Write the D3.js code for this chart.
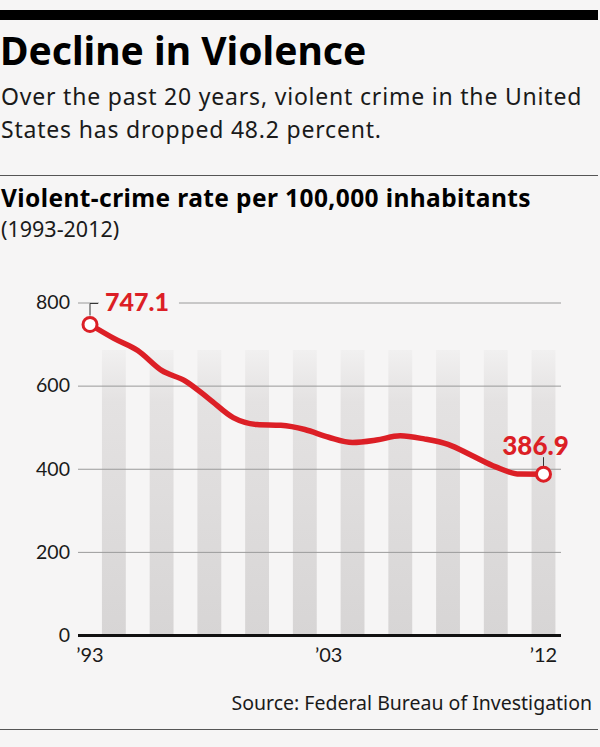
<!DOCTYPE html>
<html>
<head>
<meta charset="utf-8">
<script src="https://cdn.jsdelivr.net/npm/d3@7"></script>
<style>
  body { margin: 0; background: #f6f5f5; }
  svg { display: block; font-family: "Noto Sans", Lato, sans-serif; }
</style>
</head>
<body>
<script>
// Violent-crime rate per 100,000 inhabitants, FBI, 1993-2012
var years = [1993, 1994, 1995, 1996, 1997, 1998, 1999, 2000, 2001, 2002,
             2003, 2004, 2005, 2006, 2007, 2008, 2009, 2010, 2011, 2012];
var crimeRate = [747.1, 713.6, 684.5, 636.6, 611.0, 567.6, 523.0, 506.5, 504.5, 494.4,
                 475.8, 463.2, 469.0, 479.3, 471.8, 458.6, 431.9, 404.5, 387.1, 386.9];
var yTicks = [0, 200, 400, 600, 800];
var xTickYears = [1993, 2003, 2012];
var xTickLabels = ["\u201993", "\u201903", "\u201912"];

var width = 600;
var height = 747;
var red = "#dc1f26";

var svg = d3.select("body")
  .append("svg")
  .attr("width", width)
  .attr("height", height);

svg.append("rect")
  .attr("width", width)
  .attr("height", height)
  .attr("fill", "#f6f5f5");

// header
svg.append("rect")
  .attr("x", 0).attr("y", 10)
  .attr("width", 598).attr("height", 10)
  .attr("fill", "#000");

svg.append("text")
  .attr("x", 0).attr("y", 65)
  .attr("font-size", 39)
  .attr("font-weight", 700)
  .attr("fill", "#000")
  .text("Decline in Violence");

var sub = ["Over the past 20 years, violent crime in the United",
           "States has dropped 48.2 percent."];
svg.selectAll(".sub")
  .data(sub)
  .enter()
  .append("text")
    .attr("class", "sub")
    .attr("x", 1)
    .attr("y", function(d, i) { return 105 + i * 33; })
    .attr("font-size", 23)
    .attr("letter-spacing", 0.8)
    .attr("fill", "#1a1a1a")
    .text(function(d) { return d; });

svg.append("line")
  .attr("x1", 0).attr("x2", 598)
  .attr("y1", 175.5).attr("y2", 175.5)
  .attr("stroke", "#555");

svg.append("text")
  .attr("x", 1).attr("y", 207)
  .attr("font-size", 24.5)
  .attr("font-weight", 700)
  .attr("letter-spacing", 0.4)
  .attr("fill", "#000")
  .text("Violent-crime rate per 100,000 inhabitants");

svg.append("text")
  .attr("x", 1).attr("y", 237)
  .attr("font-size", 21.5)
  .attr("fill", "#1a1a1a")
  .text("(1993-2012)");

// scales
var xScale = d3.scaleLinear()
  .domain([1993, 2012])
  .range([90, 543.5]);

var yScale = d3.scaleLinear()
  .domain([0, 800])
  .range([635, 302.5]);

var step = xScale(1994) - xScale(1993);

// gray column bands, every other year
var grad = svg.append("defs").append("linearGradient")
  .attr("id", "band")
  .attr("x1", 0).attr("x2", 0).attr("y1", 0).attr("y2", 1);
grad.append("stop").attr("offset", "0%").attr("stop-color", "#f1f0f0");
grad.append("stop").attr("offset", "18%").attr("stop-color", "#e4e2e2");
grad.append("stop").attr("offset", "100%").attr("stop-color", "#d7d5d5");

var bandYears = years.filter(function(d) { return (d - 1993) % 2 === 1; });

svg.selectAll(".band")
  .data(bandYears)
  .enter()
  .append("rect")
    .attr("class", "band")
    .attr("x", function(d) { return xScale(d) - step / 2; })
    .attr("width", step)
    .attr("y", 350)
    .attr("height", yScale(0) - 350)
    .attr("fill", "url(#band)");

// gridlines + y labels
var yAxis = svg.append("g")
  .attr("transform", "translate(78,0)")
  .call(d3.axisLeft(yScale)
    .tickValues(yTicks)
    .tickSize(-(561 - 78))
    .tickPadding(8));

yAxis.select(".domain").remove();
yAxis.selectAll(".tick line")
  .attr("stroke", function(d) { return d === 0 ? "#111" : "#9a9a9a"; })
  .attr("stroke-width", function(d) { return d === 0 ? 3 : 1; });
yAxis.selectAll(".tick text")
  .attr("font-family", "Lato, sans-serif")
  .attr("font-size", 19.5)
  .attr("fill", "#1a1a1a");

// x labels
svg.selectAll(".xlab")
  .data(xTickYears)
  .enter()
  .append("text")
    .attr("class", "xlab")
    .attr("x", function(d) { return xScale(d); })
    .attr("y", 662)
    .attr("text-anchor", "middle")
    .attr("font-family", "Lato, sans-serif")
    .attr("font-size", 20)
    .attr("fill", "#1a1a1a")
    .text(function(d, i) { return xTickLabels[i]; });

// line
var line = d3.line()
  .x(function(d, i) { return xScale(years[i]); })
  .y(function(d) { return yScale(d); })
  .curve(d3.curveMonotoneX);

svg.append("path")
  .datum(crimeRate)
  .attr("d", line)
  .attr("fill", "none")
  .attr("stroke", red)
  .attr("stroke-width", 5.5)
  .attr("stroke-linejoin", "round")
  .attr("stroke-linecap", "round");

// end labels
var first = { x: xScale(years[0]), y: yScale(crimeRate[0]) };
var last = { x: xScale(years[years.length - 1]), y: yScale(crimeRate[crimeRate.length - 1]) };

var firstLab = svg.append("g");
var firstBg = firstLab.append("rect").attr("fill", "#f6f5f5");
var firstText = firstLab.append("text")
  .attr("x", first.x + 15)
  .attr("y", first.y - 13)
  .attr("font-family", "Lato, sans-serif")
  .attr("font-size", 25)
  .attr("font-weight", 900)
  .attr("fill", red)
  .text(d3.format(".1f")(crimeRate[0]));
var bb = firstText.node().getBBox();
firstBg.attr("x", bb.x - 6).attr("y", bb.y)
  .attr("width", bb.width + 16).attr("height", bb.height);

svg.append("path")
  .attr("d", "M" + first.x + "," + (first.y - 9) + "V" + (first.y - 21) + "H" + (first.x + 8))
  .attr("fill", "none")
  .attr("stroke", "#333")
  .attr("stroke-width", 1);

svg.append("text")
  .attr("x", last.x - 8)
  .attr("y", last.y - 19)
  .attr("text-anchor", "middle")
  .attr("font-family", "Lato, sans-serif")
  .attr("font-size", 26)
  .attr("font-weight", 900)
  .attr("fill", red)
  .text(d3.format(".1f")(crimeRate[crimeRate.length - 1]));

svg.append("line")
  .attr("x1", last.x).attr("x2", last.x)
  .attr("y1", last.y - 17).attr("y2", last.y - 8)
  .attr("stroke", "#333")
  .attr("stroke-width", 1);

svg.selectAll(".endpt")
  .data([first, last])
  .enter()
  .append("circle")
    .attr("class", "endpt")
    .attr("cx", function(d) { return d.x; })
    .attr("cy", function(d) { return d.y; })
    .attr("r", 7)
    .attr("fill", "#fff")
    .attr("stroke", red)
    .attr("stroke-width", 3);

// footer
svg.append("text")
  .attr("x", 592).attr("y", 710)
  .attr("text-anchor", "end")
  .attr("font-size", 19.5)
  .attr("fill", "#1a1a1a")
  .text("Source: Federal Bureau of Investigation");

svg.append("line")
  .attr("x1", 0).attr("x2", 598)
  .attr("y1", 729.5).attr("y2", 729.5)
  .attr("stroke", "#555");
</script>
</body>
</html>
